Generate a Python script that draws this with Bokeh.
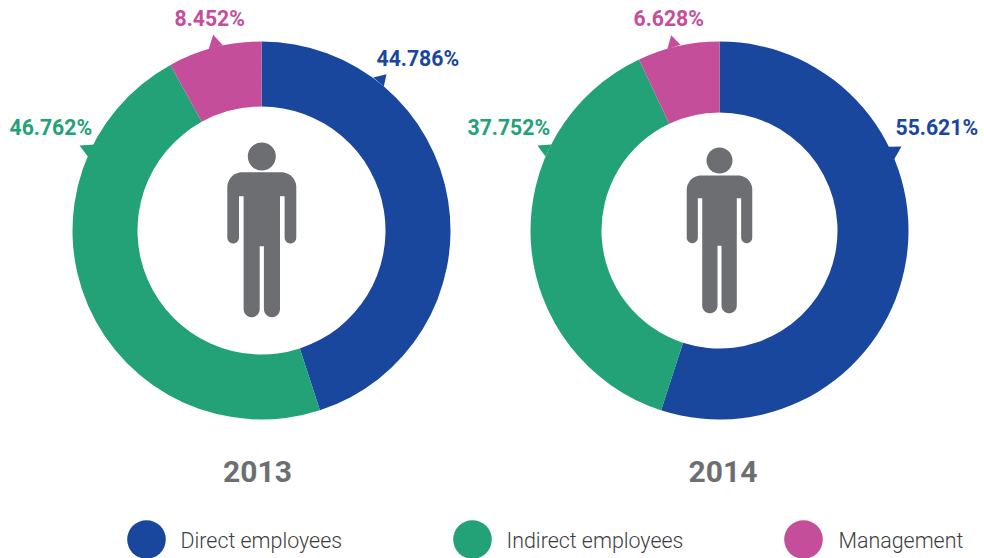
import numpy as np
from bokeh.plotting import figure
from bokeh.embed import file_html
from bokeh.resources import INLINE
from bokeh.core.properties import value

# ---- data
categories = ["Direct employees", "Indirect employees", "Management"]
years = ["2013", "2014"]
# printed percentages
labels_2013 = [44.786, 46.762, 8.452]
labels_2014 = [55.621, 37.752, 6.628]
# shares as the rings are drawn in the picture (rounded)
shares_2013 = [45, 47, 8]
shares_2014 = [55, 38, 7]

# ---- style
colors = ["#1A479E", "#22A276", "#C54E9B"]
GREY = "#6D6E71"
LEGEND_TEXT = "#3E3E41"
FONT = "Roboto"
FONT_LIGHT = "Roboto Light"
BASE = 0.39  # em lift so that given y is the digits' baseline

W, H = 984, 558
p = figure(width=W, height=H, x_range=(0, W), y_range=(0, H),
           output_backend="svg", toolbar_location=None, min_border=0)
p.xaxis.visible = False
p.yaxis.visible = False
p.xgrid.visible = False
p.ygrid.visible = False
p.outline_line_color = None
p.background_fill_color = "white"
p.border_fill_color = None


def Y(py):
    return H - np.asarray(py, dtype=float)


def arc(cx, cy, r, a0, a1, n=14):
    t = np.radians(np.linspace(a0, a1, n))
    return list(cx + r * np.cos(t)), list(cy + r * np.sin(t))


def person(cx, head_y, head_r, top, s):
    """Person pictogram: s scales the 2013 figure; y values grow downward."""
    hw, r, aw, ab, ai = 34.5 * s, 15 * s, 11.7 * s, 71.3 * s, 24 * s
    t, g, gt, lb = 18.2 * s, 2.1 * s, 74 * s, 145 * s
    lw = (t - g) / 2
    xs, ys = [0.0], [0.0]

    def add(a, b):
        xs.extend(a)
        ys.extend(b)

    add(*arc(hw - r, r, r, -90, 0))
    add(*arc(hw - aw / 2, ab - aw / 2, aw / 2, 0, 180))
    add([hw - aw, t], [ai, ai])
    add(*arc(t - lw, lb - lw, lw, 0, 180))
    add([g], [gt])
    xs_r, ys_r = np.array(xs), np.array(ys)
    full_x = np.concatenate([xs_r, -xs_r[::-1]]) + cx
    full_y = np.concatenate([ys_r, ys_r[::-1]]) + top
    p.patch(full_x, Y(full_y), fill_color=GREY, line_color=None)
    p.circle(x=[cx], y=Y([head_y]), radius=head_r, fill_color=GREY, line_color=None)


charts = [
    dict(vals=shares_2013, labels=labels_2013, year=years[0], cx=261, cy=230, ro=189, ri=124,
         year_x=257,
         label_xy=[(376, 66.5), (9, 135.5), (174, 26.5)],
         ptr=[[(386, 73.7), (372.7, 77), (383.3, 86)],
              [(79, 145), (94.3, 144), (87.3, 156)],
              [(212.7, 34.3), (208, 49), (222.3, 44.7)]],
         person=(261.3, 156, 14, 171.7, 1.0)),
    dict(vals=shares_2014, labels=labels_2014, year=years[1], cx=719, cy=230, ro=189, ri=118,
         year_x=722.5,
         label_xy=[(895, 135.5), (467, 135.5), (633, 26.5)],
         ptr=[[(901, 146), (887.7, 146.3), (893, 160)],
              [(537, 145), (550.7, 144), (545, 156)],
              [(670.7, 34.7), (666.7, 49), (680, 44.3)]],
         person=(719, 160, 13, 175, 0.95)),
]

LABEL_PX, YEAR_PX, LEGEND_PX = 21.2, 30, 21.4

for c in charts:
    v = np.array(c["vals"], dtype=float)
    frac = np.cumsum(np.concatenate([[0.0], v])) / v.sum()
    ang = np.pi / 2 - 2 * np.pi * frac
    p.annular_wedge(x=[c["cx"]] * 3, y=Y([c["cy"]] * 3),
                    inner_radius=c["ri"], outer_radius=c["ro"],
                    start_angle=list(ang[:-1]), end_angle=list(ang[1:]),
                    direction="clock", fill_color=colors, line_color=None)
    for tri, col in zip(c["ptr"], colors):
        tx, ty = zip(*tri)
        p.patch(list(tx), Y(list(ty)), fill_color=col, line_color=None)
    for val, (lx, ly), col in zip(c["labels"], c["label_xy"], colors):
        p.text(x=[lx], y=Y([ly - BASE * LABEL_PX]), text=[f"{val:.3f}%"], text_color=col,
               text_font=value(FONT), text_font_style="bold",
               text_font_size=f"{LABEL_PX}px", text_align="left",
               text_baseline="alphabetic")
    p.text(x=[c["year_x"]], y=Y([483 - BASE * YEAR_PX]), text=[c["year"]], text_color=GREY,
           text_font=value(FONT), text_font_style="bold",
           text_font_size=f"{YEAR_PX}px", text_align="center",
           text_baseline="alphabetic")
    hx, hy, hr, top, s = c["person"]
    person(hx, hy, hr, top, s)

legend_cx = [146, 472, 803]
legend_tx = [180, 506, 838]
for name, col, lcx, ltx in zip(categories, colors, legend_cx, legend_tx):
    p.circle(x=[lcx], y=Y([539]), radius=19.3, fill_color=col, line_color=None)
    p.text(x=[ltx], y=Y([548 - BASE * LEGEND_PX]), text=[name], text_color=LEGEND_TEXT,
           text_font=value(FONT_LIGHT), text_font_size=f"{LEGEND_PX}px", text_align="left",
           text_baseline="alphabetic")

open("out.html", "w").write(file_html(p, INLINE))
